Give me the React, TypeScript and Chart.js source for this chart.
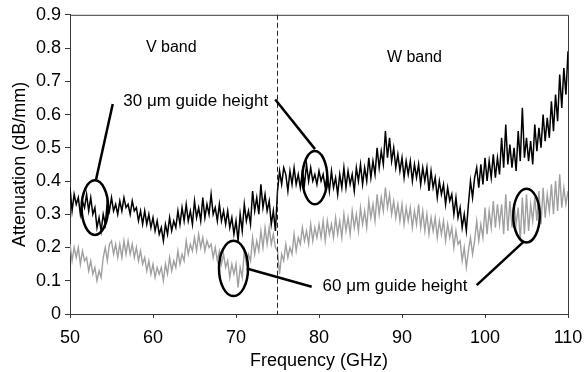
import { useEffect, useRef } from "react";
import { Chart, registerables } from "chart.js";
Chart.register(...registerables);

// Frequency grid (GHz)
const FREQ = [
  50, 50.25, 50.5, 50.75, 51, 51.25, 51.5, 51.75, 52, 52.25, 52.5, 52.75, 53, 53.25, 53.5, 53.75,
  54, 54.25, 54.5, 54.75, 55, 55.25, 55.5, 55.75, 56, 56.25, 56.5, 56.75, 57, 57.25, 57.5, 57.75,
  58, 58.25, 58.5, 58.75, 59, 59.25, 59.5, 59.75, 60, 60.25, 60.5, 60.75, 61, 61.25, 61.5, 61.75,
  62, 62.25, 62.5, 62.75, 63, 63.25, 63.5, 63.75, 64, 64.25, 64.5, 64.75, 65, 65.25, 65.5, 65.75,
  66, 66.25, 66.5, 66.75, 67, 67.25, 67.5, 67.75, 68, 68.25, 68.5, 68.75, 69, 69.25, 69.5, 69.75,
  70, 70.25, 70.5, 70.75, 71, 71.25, 71.5, 71.75, 72, 72.25, 72.5, 72.75, 73, 73.25, 73.5, 73.75,
  74, 74.25, 74.5, 74.75, 75, 75.25, 75.5, 75.75, 76, 76.25, 76.5, 76.75, 77, 77.25, 77.5, 77.75,
  78, 78.25, 78.5, 78.75, 79, 79.25, 79.5, 79.75, 80, 80.25, 80.5, 80.75, 81, 81.25, 81.5, 81.75,
  82, 82.25, 82.5, 82.75, 83, 83.25, 83.5, 83.75, 84, 84.25, 84.5, 84.75, 85, 85.25, 85.5, 85.75,
  86, 86.25, 86.5, 86.75, 87, 87.25, 87.5, 87.75, 88, 88.25, 88.5, 88.75, 89, 89.25, 89.5, 89.75,
  90, 90.25, 90.5, 90.75, 91, 91.25, 91.5, 91.75, 92, 92.25, 92.5, 92.75, 93, 93.25, 93.5, 93.75,
  94, 94.25, 94.5, 94.75, 95, 95.25, 95.5, 95.75, 96, 96.25, 96.5, 96.75, 97, 97.25, 97.5, 97.75,
  98, 98.25, 98.5, 98.75, 99, 99.25, 99.5, 99.75, 100, 100.25, 100.5, 100.75, 101, 101.25, 101.5, 101.75,
  102, 102.25, 102.5, 102.75, 103, 103.25, 103.5, 103.75, 104, 104.25, 104.5, 104.75, 105, 105.25, 105.5, 105.75,
  106, 106.25, 106.5, 106.75, 107, 107.25, 107.5, 107.75, 108, 108.25, 108.5, 108.75, 109, 109.25, 109.5, 109.75,
  110,
];

// 30 µm guide height (dB/mm)
const ATTEN_30UM = [
  0.38, 0.31, 0.36, 0.33, 0.35, 0.30, 0.34, 0.32, 0.36, 0.31, 0.35, 0.30, 0.32, 0.26, 0.29, 0.25,
  0.30, 0.27, 0.34, 0.31, 0.35, 0.31, 0.33, 0.30, 0.34, 0.31, 0.35, 0.32, 0.33, 0.30, 0.34, 0.31,
  0.32, 0.28, 0.31, 0.27, 0.31, 0.27, 0.30, 0.26, 0.29, 0.25, 0.28, 0.24, 0.26, 0.22, 0.27, 0.24,
  0.29, 0.25, 0.28, 0.26, 0.31, 0.27, 0.32, 0.28, 0.33, 0.28, 0.31, 0.27, 0.34, 0.29, 0.32, 0.28,
  0.35, 0.29, 0.33, 0.30, 0.36, 0.30, 0.32, 0.28, 0.33, 0.28, 0.31, 0.27, 0.31, 0.26, 0.29, 0.24,
  0.28, 0.22, 0.30, 0.25, 0.33, 0.28, 0.31, 0.27, 0.37, 0.31, 0.35, 0.30, 0.39, 0.32, 0.36, 0.31,
  0.34, 0.27, 0.31, 0.25, 0.37, 0.43, 0.39, 0.44, 0.42, 0.37, 0.43, 0.39, 0.44, 0.39, 0.42, 0.38,
  0.43, 0.39, 0.45, 0.40, 0.44, 0.40, 0.42, 0.39, 0.43, 0.40, 0.42, 0.38, 0.42, 0.37, 0.43, 0.38,
  0.41, 0.36, 0.42, 0.38, 0.44, 0.38, 0.43, 0.39, 0.42, 0.37, 0.44, 0.40, 0.45, 0.39, 0.44, 0.40,
  0.47, 0.41, 0.46, 0.42, 0.50, 0.44, 0.49, 0.45, 0.55, 0.47, 0.53, 0.46, 0.50, 0.44, 0.48, 0.43,
  0.47, 0.41, 0.46, 0.42, 0.46, 0.40, 0.45, 0.41, 0.45, 0.39, 0.44, 0.40, 0.44, 0.37, 0.43, 0.38,
  0.41, 0.35, 0.40, 0.36, 0.39, 0.33, 0.38, 0.34, 0.36, 0.30, 0.35, 0.29, 0.32, 0.26, 0.30, 0.25,
  0.33, 0.40, 0.35, 0.41, 0.44, 0.38, 0.45, 0.39, 0.47, 0.40, 0.46, 0.41, 0.48, 0.41, 0.47, 0.42,
  0.53, 0.44, 0.57, 0.45, 0.51, 0.44, 0.50, 0.43, 0.55, 0.46, 0.62, 0.47, 0.53, 0.46, 0.52, 0.45,
  0.57, 0.49, 0.56, 0.50, 0.60, 0.52, 0.59, 0.53, 0.64, 0.55, 0.66, 0.58, 0.72, 0.62, 0.74, 0.66,
  0.79,
];

// 60 µm guide height (dB/mm)
const ATTEN_60UM = [
  0.21, 0.16, 0.20, 0.17, 0.20, 0.15, 0.19, 0.16, 0.17, 0.13, 0.16, 0.12, 0.14, 0.10, 0.13, 0.11,
  0.17, 0.20, 0.16, 0.21, 0.22, 0.18, 0.21, 0.17, 0.21, 0.17, 0.22, 0.18, 0.22, 0.18, 0.21, 0.17,
  0.20, 0.16, 0.19, 0.15, 0.17, 0.13, 0.16, 0.12, 0.15, 0.11, 0.14, 0.12, 0.14, 0.10, 0.15, 0.12,
  0.17, 0.13, 0.16, 0.14, 0.19, 0.15, 0.18, 0.16, 0.22, 0.18, 0.21, 0.19, 0.23, 0.19, 0.24, 0.20,
  0.23, 0.19, 0.22, 0.20, 0.21, 0.17, 0.20, 0.16, 0.19, 0.15, 0.18, 0.14, 0.16, 0.11, 0.15, 0.12,
  0.15, 0.08, 0.14, 0.11, 0.19, 0.15, 0.18, 0.16, 0.23, 0.18, 0.22, 0.19, 0.25, 0.20, 0.26, 0.21,
  0.26, 0.21, 0.24, 0.20, 0.19, 0.12, 0.18, 0.16, 0.21, 0.17, 0.20, 0.18, 0.24, 0.19, 0.23, 0.21,
  0.26, 0.22, 0.25, 0.21, 0.27, 0.22, 0.26, 0.23, 0.27, 0.23, 0.28, 0.22, 0.28, 0.24, 0.27, 0.23,
  0.29, 0.24, 0.28, 0.23, 0.30, 0.25, 0.29, 0.24, 0.31, 0.26, 0.30, 0.25, 0.32, 0.27, 0.31, 0.26,
  0.34, 0.29, 0.33, 0.28, 0.36, 0.30, 0.35, 0.31, 0.38, 0.32, 0.36, 0.30, 0.34, 0.29, 0.33, 0.28,
  0.33, 0.27, 0.32, 0.28, 0.32, 0.26, 0.31, 0.27, 0.33, 0.26, 0.31, 0.25, 0.30, 0.24, 0.29, 0.25,
  0.29, 0.23, 0.28, 0.24, 0.28, 0.22, 0.27, 0.23, 0.26, 0.20, 0.25, 0.21, 0.22, 0.16, 0.20, 0.14,
  0.19, 0.23, 0.18, 0.22, 0.28, 0.22, 0.27, 0.23, 0.32, 0.24, 0.31, 0.26, 0.34, 0.26, 0.33, 0.27,
  0.33, 0.24, 0.36, 0.25, 0.34, 0.26, 0.33, 0.27, 0.32, 0.22, 0.35, 0.24, 0.36, 0.25, 0.33, 0.28,
  0.35, 0.28, 0.37, 0.27, 0.38, 0.29, 0.36, 0.31, 0.39, 0.30, 0.40, 0.31, 0.42, 0.32, 0.38, 0.33,
  0.37,
];

const X_TICKS = [50, 60, 70, 80, 90, 100, 110];
const Y_TICKS = [0, 0.1, 0.2, 0.3, 0.4, 0.5, 0.6, 0.7, 0.8, 0.9];
const BAND_EDGE_GHZ = 75;

// Annotation texts, in data coordinates (GHz, dB/mm)
const TEXT_LABELS = [
  { text: "V band", f: 62.2, v: 0.8, size: 16 },
  { text: "W band", f: 91.5, v: 0.77, size: 16 },
  { text: "30 \u03bcm guide height", f: 65.15, v: 0.64, size: 17 },
  { text: "60 \u03bcm guide height", f: 89.16, v: 0.082, size: 17 },
];
// Ellipses: centre (f, v), half-widths (rf GHz, rv dB/mm)
const ELLIPSES = [
  { f: 53.0, v: 0.32, rf: 1.6, rv: 0.082 },
  { f: 79.5, v: 0.41, rf: 1.5, rv: 0.08 },
  { f: 69.7, v: 0.137, rf: 1.75, rv: 0.083 },
  { f: 105.0, v: 0.296, rf: 1.6, rv: 0.081 },
];
// Leader lines: [f1, v1, f2, v2]
const LEADERS = [
  [53.1, 0.4, 55.15, 0.632],
  [74.73, 0.645, 79.52, 0.496],
  [71.29, 0.137, 79.12, 0.082],
  [99.0, 0.087, 104.6, 0.216],
];

const FONT = "'Liberation Sans', Arial, Helvetica, sans-serif";
const AXIS_COLOR = "#3a3a3a";

const overlay = {
  id: "overlay",
  afterDatasetsDraw(chart: any) {
    const { ctx, chartArea: a, scales } = chart;
    const x = scales.x;
    const y = scales.y;
    ctx.save();
    // band edge
    const bx = x.getPixelForValue(BAND_EDGE_GHZ);
    ctx.strokeStyle = "#222";
    ctx.lineWidth = 1;
    ctx.setLineDash([5, 3]);
    ctx.beginPath();
    ctx.moveTo(bx, a.top);
    ctx.lineTo(bx, a.bottom);
    ctx.stroke();
    ctx.setLineDash([]);
    // ellipses
    ctx.strokeStyle = "#000";
    ctx.lineWidth = 2.5;
    for (const e of ELLIPSES) {
      const cx = x.getPixelForValue(e.f);
      const cy = y.getPixelForValue(e.v);
      const rx = Math.abs(x.getPixelForValue(e.f + e.rf) - cx);
      const ry = Math.abs(y.getPixelForValue(e.v + e.rv) - cy);
      ctx.beginPath();
      ctx.ellipse(cx, cy, rx, ry, 0, 0, Math.PI * 2);
      ctx.stroke();
    }
    for (const l of LEADERS) {
      ctx.beginPath();
      ctx.moveTo(x.getPixelForValue(l[0]), y.getPixelForValue(l[1]));
      ctx.lineTo(x.getPixelForValue(l[2]), y.getPixelForValue(l[3]));
      ctx.stroke();
    }
    // texts
    ctx.textAlign = "center";
    ctx.textBaseline = "middle";
    for (const t of TEXT_LABELS) {
      ctx.font = `${t.size}px ${FONT}`;
      const tx = x.getPixelForValue(t.f);
      const ty = y.getPixelForValue(t.v);
      const w = ctx.measureText(t.text).width;
      ctx.fillStyle = "#fff";
      ctx.fillRect(tx - w / 2 - 2, ty - 9, w + 4, 18);
      ctx.fillStyle = "#000";
      ctx.fillText(t.text, tx, ty);
    }
    // top & right frame
    ctx.strokeStyle = AXIS_COLOR;
    ctx.lineWidth = 1;
    ctx.beginPath();
    ctx.moveTo(a.left, a.top + 0.5);
    ctx.lineTo(a.right + 0.5, a.top + 0.5);
    ctx.lineTo(a.right + 0.5, a.bottom);
    ctx.stroke();
    ctx.restore();
  },
};

export default function App() {
  const ref = useRef<HTMLCanvasElement | null>(null);
  useEffect(() => {
    if (!ref.current) return;
    Chart.defaults.font.family = FONT;
    Chart.defaults.font.size = 18;
    Chart.defaults.color = "#000";
    const chart = new Chart(ref.current, {
      type: "line",
      data: {
        datasets: [
          {
            label: "60 \u03bcm guide height",
            data: FREQ.map((f, i) => ({ x: f, y: ATTEN_60UM[i] })),
            borderColor: "#a0a0a0",
            borderWidth: 1.4,
            pointRadius: 0,
            tension: 0,
          },
          {
            label: "30 \u03bcm guide height",
            data: FREQ.map((f, i) => ({ x: f, y: ATTEN_30UM[i] })),
            borderColor: "#000",
            borderWidth: 1.5,
            pointRadius: 0,
            tension: 0,
          },
        ],
      },
      options: {
        responsive: false,
        animation: false,
        layout: { padding: { top: 13, right: 19, left: 0, bottom: 0 } },
        plugins: { legend: { display: false }, tooltip: { enabled: false } },
        scales: {
          x: {
            type: "linear",
            min: 50,
            max: 110,
            afterBuildTicks: (s: any) => {
              s.ticks = X_TICKS.map((v) => ({ value: v }));
            },
            afterFit: (s: any) => {
              s.height = 58;
            },
            ticks: { padding: 4, maxRotation: 0, font: { size: 18, lineHeight: 1.75 } },
            grid: { drawOnChartArea: false, drawTicks: true, tickLength: 4, color: AXIS_COLOR },
            border: { display: true, color: AXIS_COLOR },
            title: { display: true, text: "Frequency (GHz)", font: { size: 18 }, padding: { top: 0, bottom: 0 } },
          },
          y: {
            type: "linear",
            min: 0,
            max: 0.9,
            afterBuildTicks: (s: any) => {
              s.ticks = Y_TICKS.map((v) => ({ value: v }));
            },
            afterFit: (s: any) => {
              s.width = 70;
            },
            ticks: {
              padding: 4,
              font: { size: 18 },
              callback: (v: any) => String(Math.round(Number(v) * 10) / 10),
            },
            grid: { drawOnChartArea: false, drawTicks: true, tickLength: 5, color: AXIS_COLOR },
            border: { display: true, color: AXIS_COLOR },
            title: { display: true, text: "Attenuation (dB/mm)", font: { size: 18 }, padding: { top: 9, bottom: 0 } },
          },
        },
      },
      plugins: [overlay],
    });
    return () => chart.destroy();
  }, []);
  return (
    <div style={{ position: "absolute", left: 0, top: 0, width: 587, height: 372, background: "#fff" }}>
      <canvas ref={ref} width={587} height={372} />
    </div>
  );
}
